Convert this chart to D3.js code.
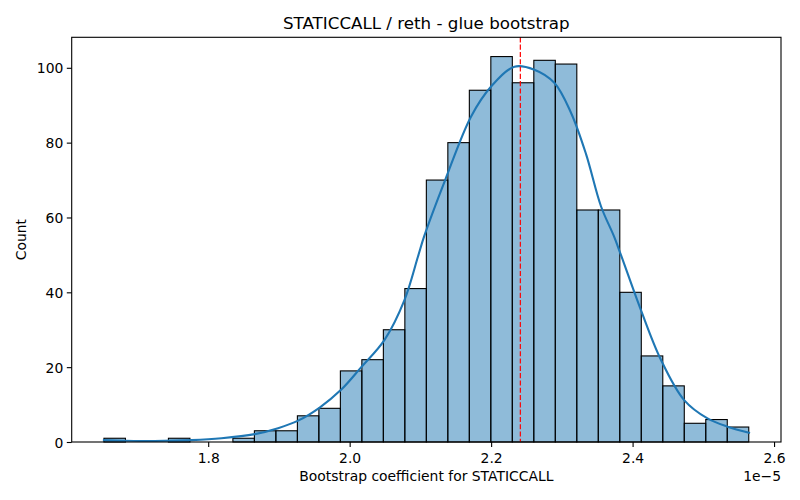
<!DOCTYPE html>
<html>
<head>
<meta charset="utf-8">
<script src="https://cdn.jsdelivr.net/npm/d3@7"></script>
<style>
  html, body { margin: 0; padding: 0; background: #fff; }
  svg { display: block; font-family: "DejaVu Sans", sans-serif; }
</style>
</head>
<body>
<svg id="chart" width="800" height="500"></svg>
<script>
// ---- data (x values in units of 1e-5) ----
const binStart = 1.6526;
const binWidth = 0.030388;
const binCounts = [1, 0, 0, 1, 0, 0, 1, 3, 3, 7, 9, 19, 22, 30, 41, 70, 80, 94, 103, 96, 102, 101, 62, 62, 40, 23, 15, 5, 6, 4];
const kdeX = [1.6526, 1.6823, 1.7242, 1.7764, 1.8188, 1.8658, 1.8988, 1.9271, 1.9576, 1.9882, 2.0164, 2.0493, 2.0776, 2.0965, 2.1054, 2.1350, 2.1717, 2.2000, 2.2329, 2.2611, 2.2893, 2.3129, 2.3341, 2.3553, 2.3736, 2.3835, 2.4117, 2.4400, 2.4729, 2.5059, 2.5342, 2.5646];
const kdeY = [0.5, 0.35, 0.27, 0.5, 1.0, 2.1, 3.7, 5.7, 9.2, 14, 20, 27.3, 38, 49.5, 55, 70, 87, 95, 100.3, 99.5, 96, 88, 77, 63, 55, 50, 35.3, 22, 11.2, 6.3, 4.1, 2.5];
const meanValue = 2.2413;
const xTicks = [1.8, 2.0, 2.2, 2.4, 2.6];
const yTicks = [0, 20, 40, 60, 80, 100];
const titleText = "STATICCALL / reth - glue bootstrap";
const xLabel = "Bootstrap coefficient for STATICCALL";
const yLabel = "Count";
const offsetText = "1e\u22125";

// ---- layout ----
const L = 71.7, R = 781, T = 37.3, B = 442;
const svg = d3.select("#chart");

const bins = binCounts.map((c, i) => ({ x0: binStart + i * binWidth, x1: binStart + (i + 1) * binWidth, c }));
const dataMin = bins[0].x0, dataMax = bins[bins.length - 1].x1;
const pad = (dataMax - dataMin) * 0.05;
const x = d3.scaleLinear().domain([dataMin - pad, dataMax + pad]).range([L, R]);
const yMax = d3.max(binCounts) * 1.05;
const y = d3.scaleLinear().domain([0, yMax]).range([B, T]);

// bars
svg.append("g").selectAll("rect").data(bins).join("rect")
  .attr("x", d => x(d.x0))
  .attr("width", d => x(d.x1) - x(d.x0))
  .attr("y", d => y(d.c))
  .attr("height", d => y(0) - y(d.c))
  .attr("fill", "rgba(31,119,180,0.5)")
  .attr("stroke", "#000")
  .attr("stroke-width", 1.1);

// KDE
const kde = kdeX.map((v, i) => [v, kdeY[i]]);
svg.append("path")
  .datum(kde)
  .attr("fill", "none")
  .attr("stroke", "#1f77b4")
  .attr("stroke-width", 2.1)
  .attr("stroke-linecap", "square")
  .attr("d", d3.line().x(d => x(d[0])).y(d => y(d[1])).curve(d3.curveCatmullRom.alpha(0.5)));

// mean line
svg.append("line")
  .attr("x1", x(meanValue)).attr("x2", x(meanValue))
  .attr("y1", T).attr("y2", B)
  .attr("stroke", "#ff0000")
  .attr("stroke-width", 1.2)
  .attr("stroke-dasharray", "5.1,2.2");

// axes
const xAxis = d3.axisBottom(x).tickValues(xTicks).tickFormat(d3.format(".1f")).tickSize(4.9).tickPadding(3.5);
const gx = svg.append("g").attr("transform", `translate(0,${B})`).call(xAxis);
const yAxis = d3.axisLeft(y).tickValues(yTicks).tickFormat(d3.format("d")).tickSize(4.9).tickPadding(3.5);
const gy = svg.append("g").attr("transform", `translate(${L},0)`).call(yAxis);
[gx, gy].forEach(g => {
  g.select(".domain").remove();
  g.selectAll(".tick line").attr("stroke", "#000").attr("stroke-width", 1.1);
  g.selectAll(".tick text").attr("fill", "#000").attr("font-size", 13.9).attr("font-family", "DejaVu Sans");
});
gx.selectAll(".tick text").attr("dy", null).attr("y", 21);
gy.selectAll(".tick text").attr("dy", "0.36em");

// frame
svg.append("rect")
  .attr("x", L).attr("y", T).attr("width", R - L).attr("height", B - T)
  .attr("fill", "none").attr("stroke", "#000").attr("stroke-width", 1.1);

// texts
svg.append("text").attr("x", (L + R) / 2).attr("y", 29).attr("text-anchor", "middle")
  .attr("font-size", 16.7).text(titleText);
svg.append("text").attr("x", (L + R) / 2).attr("y", 481).attr("text-anchor", "middle")
  .attr("font-size", 13.9).text(xLabel);
svg.append("text").attr("transform", `translate(26,${(T + B) / 2}) rotate(-90)`).attr("text-anchor", "middle")
  .attr("font-size", 13.9).text(yLabel);
svg.append("text").attr("x", R).attr("y", 481).attr("text-anchor", "end")
  .attr("font-size", 13.9).text(offsetText);
</script>
</body>
</html>
